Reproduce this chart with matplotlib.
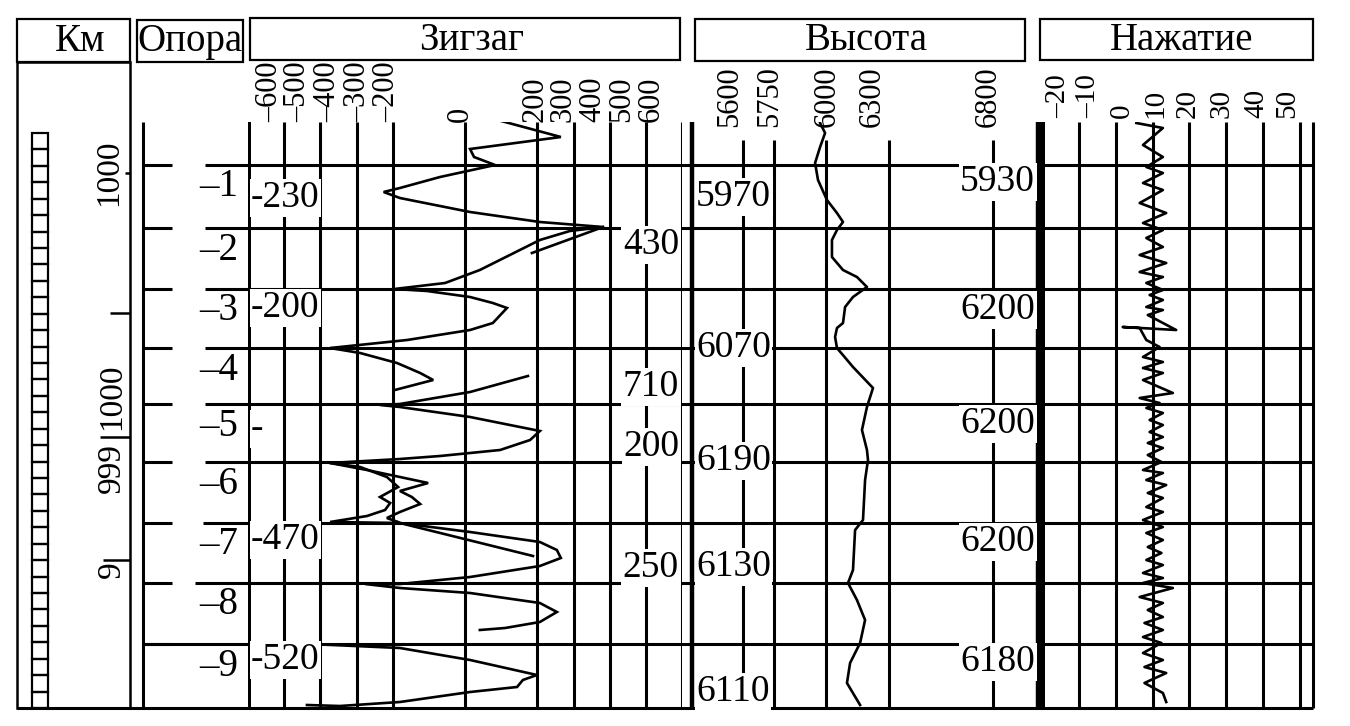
import matplotlib.pyplot as plt
from matplotlib.patches import Rectangle

W, H = 1350, 726
Y0 = 165            # pixel row of the first support line
GRID_TOP, GRID_BOT = 122, 708

plt.rcParams['font.family'] = ['Liberation Serif', 'DejaVu Serif']

# ---------------- data ----------------
support_labels = ['–1', '–2', '–3', '–4', '–5', '–6', '–7', '–8', '–9']
support_pos = [0, 63, 124, 183, 239, 297, 358, 418, 479]      # m along track

km_ticks = [8, 148, 272, 395]
km_labels = ['1000', '1000', '999', '9']
km_label_pos = [8, 232, 303, 405]

# zigzag, mm
zig_grid = [-500, -400, -300, -200, 0, 200, 300, 400, 500, 600]
zig_ticklabels = ['–600', '–500', '–400', '–300', '–200', '0', '200', '300', '400', '500', '600']
zig1_val = [90, 265, 14, 25, 83, -69, -180, -225, -180, -97, 14, 207, 382, 290, 207, 124, 41,
            -55, -195, -105, 14, 77, 116, 77, 14, -160, -373, -290, -188, -124, -88, -194]
zig1_pos = [-45, -28, -16, -8, 0, 12, 23, 27, 33, 39, 47, 57, 62, 66, 75, 90, 105,
            118, 124, 126, 132, 138, 143, 158, 165, 175, 183, 188, 198, 208, 215, 225]
zig2_val = [185, 382]
zig2_pos = [88, 62]
zig3_val = [174, 14, -180, -235, -180, 14, 207, 180, 97, -69, -180, -373, -290, -216, -185,
            -235, -207, -221, -271, -373, -180, 14, 207, 254, 265, 207, 14, -180, -276, -180,
            14, 207, 254, 207, 111, 41]
zig3_pos = [211, 227, 239, 240, 242, 252, 266, 275, 285, 291, 294, 298, 302, 312, 322,
            332, 338, 345, 351, 357, 358, 367, 377, 385, 393, 401, 412, 419, 419, 423,
            428, 438, 447, 457, 463, 465]
zig4_val = [-373, -271, -180, -102, -180, -147, -124, -180, -216, -185]
zig4_pos = [298, 305, 312, 318, 326, 332, 339, 347, 353, 357]
zig5_val = [-180, 188]
zig5_pos = [358, 391]
zig6_val = [-429, -180, 14, 199, 160, 144, 14, -180, -346, -437]
zig6_pos = [479, 483, 495, 510, 515, 522, 527, 537, 541, 540]

zig_left_txt = ['-230', '-200', '-', '-470', '-520']
zig_left_pos = [33, 143, 264, 375, 495]
zig_right_txt = ['430', '710', '200', '250']
zig_right_pos = [80, 222, 282, 403]

# height, mm
vys_grid = [5600, 5750, 6000, 6300, 6800]
vys_val = [5970, 5994, 5970, 5946, 5960, 6003, 6051, 6080, 6051, 6027, 6027, 6080, 6147,
           6195, 6128, 6090, 6080, 6051, 6042, 6051, 6128, 6224, 6195, 6171, 6195, 6200,
           6186, 6176, 6138, 6128, 6104, 6147, 6186, 6162, 6114, 6099, 6162]
vys_pos = [-42, -32, -18, -2, 15, 35, 48, 57, 65, 75, 92, 105, 112,
           122, 132, 142, 158, 163, 172, 183, 202, 223, 242, 265, 285, 295,
           315, 355, 365, 405, 418, 435, 455, 478, 498, 518, 540]
vys_left_txt = ['5970', '6070', '6190', '6130', '6110']
vys_left_pos = [32, 183, 296, 402, 527]
vys_right_txt = ['5930', '6200', '6200', '6200', '6180']
vys_right_pos = [17, 145, 259, 377, 497]

# contact pressure
naj_grid = [-10, 0, 10, 20, 30, 40, 50]
naj_ticklabels = ['–20', '–10', '0', '10', '20', '30', '40', '50']
naj_val = [5.6, 12.8, 7.4, 12.8, 8.3, 12.8, 7.4, 12.8, 6.5, 13.7, 7.4, 12.8, 8.3,
           12.8, 6.5, 13.7, 6.5, 12.8, 8.3, 12.8, 9.2, 12.8, 8.3, 12.8, 8.7, 16.4, 1.9,
           6.5, 8.3, 11.9, 7.4, 12.8, 7.4, 12.8, 7.4, 15.5, 6.5, 11.9, 8.3, 12.8, 9.2,
           12.8, 9.2, 12.8, 8.7, 12.8, 8.7, 12.4, 7.4, 12.8, 8.3, 13.7, 8.7, 12.8, 8.3,
           12.8, 7.4, 12.8, 8.3, 12.8, 8.7, 12.4, 8.3, 12.8, 7.4, 12.8, 7.4, 15.5, 6.5,
           12.8, 8.7, 12.8, 7.8, 12.8, 7.4, 12.4, 7.4, 12.8, 7.8, 13.7, 7.8, 12.8, 13.7]
naj_pos = [-42, -37, -20, -8, 2, 8, 18, 25, 38, 48, 58, 65, 73,
           82, 90, 98, 107, 112, 118, 125, 130, 135, 142, 145, 150, 165, 162,
           163, 175, 182, 192, 197, 203, 208, 215, 228, 233, 238, 243, 248, 255,
           260, 267, 272, 278, 283, 290, 297, 305, 308, 315, 320, 328, 333, 342,
           347, 355, 362, 368, 375, 382, 388, 395, 400, 408, 413, 418, 423, 432,
           438, 445, 452, 458, 465, 472, 478, 488, 495, 502, 508, 518, 528, 537]

# ---------------- figure ----------------
fig = plt.figure(figsize=(W / 100, H / 100), dpi=100)

lay = fig.add_axes([0, 0, 1, 1])
lay.set_xlim(0, W)
lay.set_ylim(H, 0)
lay.axis('off')


def panel(x0, x1, va, pa, vb, pb):
    ax = fig.add_axes([x0 / W, 1 - GRID_BOT / H, (x1 - x0) / W, (GRID_BOT - GRID_TOP) / H])
    k = (vb - va) / (pb - pa)
    ax.set_xlim(va + (x0 - pa) * k, va + (x1 - pa) * k)
    ax.set_ylim(GRID_BOT - Y0, GRID_TOP - Y0)
    ax.axis('off')
    return ax


LW = 2.2
CW = 1.9
s_bot = GRID_BOT - Y0

# header boxes
boxes = [(17, 19, 130, 62, 'Км', 80), (137, 20, 243, 62, 'Опора', 190),
         (250, 18, 680, 60, 'Зигзаг', 472), (695, 19, 1025, 61, 'Высота', 866),
         (1040, 19, 1313, 60, 'Нажатие', 1182)]
for x0, y0, x1, y1, name, xc in boxes:
    lay.add_patch(Rectangle((x0, y0), x1 - x0, y1 - y0, fill=False, lw=1.6, ec='black'))
    lay.text(xc, (y0 + y1) / 2 + 1, name, fontsize=28, ha='center', va='center')

# km column
lay.add_patch(Rectangle((17, 62), 113, GRID_BOT - 62, fill=False, lw=1.8, ec='black'))
n_sq = 35
sq_h = (GRID_BOT - 133) / n_sq
for i in range(n_sq):
    lay.add_patch(Rectangle((32, 133 + i * sq_h), 16, sq_h, fill=False, lw=1.6, ec='black'))

# frame lines
lay.vlines([143], GRID_TOP, GRID_BOT, color='black', lw=LW)
lay.vlines([692, 1038], GRID_TOP, GRID_BOT, color='black', lw=3.2)
lay.vlines([1313], GRID_TOP, GRID_BOT, color='black', lw=LW)
lay.hlines([GRID_BOT], 17, 1313, color='black', lw=LW)

# rotated scale labels
zig_lab_x = [270, 298, 328, 358, 387, 460, 535, 563, 593, 622, 651]
for x, t in zip(zig_lab_x, zig_ticklabels):
    lay.text(x, 122, t, rotation=90, fontsize=22, ha='center', va='bottom')
vys_lab_x = [730, 770, 827, 872, 988]
for x, v in zip(vys_lab_x, vys_grid):
    lay.text(x, 127, str(v), rotation=90, fontsize=22, ha='center', va='bottom')
naj_lab_x = [1058, 1088, 1122, 1155, 1188, 1222, 1256, 1287]
for x, t in zip(naj_lab_x, naj_ticklabels):
    lay.text(x, 118, t, rotation=90, fontsize=21, ha='center', va='bottom')

# ---- zigzag panel ----
zig = panel(248, 682, -600, 248, 600, 682)
zig.axvline(-600, color='black', lw=3.6)
zig.vlines(zig_grid, s_bot, GRID_TOP - Y0, color='black', lw=LW)
for v, p in [(zig1_val, zig1_pos), (zig2_val, zig2_pos), (zig3_val, zig3_pos),
             (zig4_val, zig4_pos), (zig5_val, zig5_pos), (zig6_val, zig6_pos)]:
    zig.plot(v, p, color='black', lw=CW, solid_joinstyle='miter')

# ---- height panel ----
vys = panel(692, 1038, 5600, 743, 6800, 993)
vys.vlines(vys_grid, s_bot, 140 - Y0, color='black', lw=LW)
vys.plot(vys_val, vys_pos, color='black', lw=CW)

# ---- pressure panel ----
naj = panel(1040, 1313, -20, 1042, 50, 1300)
naj.axvline(-20, color='black', lw=3.6)
naj.vlines(naj_grid, s_bot, GRID_TOP - Y0, color='black', lw=LW)
naj.plot(naj_val, naj_pos, color='black', lw=CW)

# ---- track overlay: supports, km marks, annotations ----
trk = fig.add_axes([0, 0, 1, 1])
trk.set_xlim(0, W)
trk.set_ylim(H - Y0, -Y0)
trk.axis('off')

line_start = [205, 205, 205, 205, 205, 205, 203, 195, 143]
for p, x0 in zip(support_pos, line_start):
    trk.hlines(p, x0, 1313, color='black', lw=LW)
trk.hlines(support_pos, 143, 172, color='black', lw=LW)
for p, t in zip(support_pos, support_labels):
    trk.text(238, p + 22, t, fontsize=28, ha='right', va='center')

km_tick_x0 = [125, 110, 100, 103]
for p, x0 in zip(km_ticks, km_tick_x0):
    trk.hlines(p, x0, 130, color='black', lw=1.8)
km_label_x = [109, 112, 112, 112]
for x, p, t in zip(km_label_x, km_label_pos, km_labels):
    trk.text(x, p, t, rotation=90, fontsize=24, ha='center', va='center')

wb = dict(facecolor='white', edgecolor='none', pad=1)
for p, t in zip(zig_left_pos, zig_left_txt):
    trk.text(251, p, t, fontsize=27, ha='left', va='center', bbox=wb)
for p, t in zip(zig_right_pos, zig_right_txt):
    trk.text(679, p, t, fontsize=27, ha='right', va='center', bbox=wb)
for p, t in zip(vys_left_pos, vys_left_txt):
    trk.text(696, p, t, fontsize=27, ha='left', va='center', bbox=wb)
for p, t in zip(vys_right_pos, vys_right_txt):
    trk.text(1035, p, t, fontsize=27, ha='right', va='center', bbox=wb)

fig.savefig('out.png', dpi=100)
